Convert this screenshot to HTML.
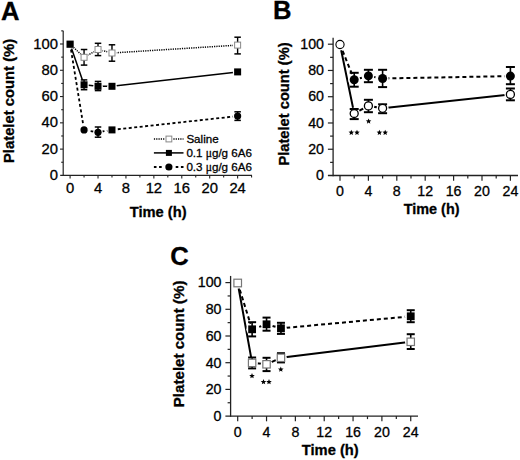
<!DOCTYPE html>
<html><head><meta charset="utf-8"><style>
html,body{margin:0;padding:0;background:#fff;width:520px;height:460px;overflow:hidden;}
svg{display:block;font-family:"Liberation Sans", sans-serif;}
text{stroke:#000;stroke-width:0.3px;}
</style></head><body>
<svg width="520" height="460" viewBox="0 0 520 460" font-family="Liberation Sans, sans-serif">
<rect width="520" height="460" fill="#fff"/>
<text x="1.0" y="19.8" font-size="25.6" font-weight="bold">A</text>
<text x="273.0" y="19.0" font-size="25.6" font-weight="bold">B</text>
<text x="170.3" y="264.8" font-size="25.6" font-weight="bold">C</text>
<text transform="translate(13.6,163) rotate(-90)" font-size="14.8" font-weight="bold">Platelet count (%)</text>
<text transform="translate(288.5,165.6) rotate(-90)" font-size="14.7" font-weight="bold">Platelet count (%)</text>
<text transform="translate(184.3,407.2) rotate(-90)" font-size="15.1" font-weight="bold">Platelet count (%)</text>
<text x="129.7" y="216.6" font-size="14.7" font-weight="bold">Time (h)</text>
<text x="403.8" y="214" font-size="14.4" font-weight="bold">Time (h)</text>
<text x="301.8" y="454.8" font-size="14.7" font-weight="bold">Time (h)</text>
<line x1="63.2" y1="30.86" x2="63.2" y2="176" stroke="#222" stroke-width="1.2" />
<line x1="60.2" y1="175.4" x2="252" y2="175.4" stroke="#222" stroke-width="1.2" />
<line x1="61.2" y1="162.26" x2="63.2" y2="162.26" stroke="#222" stroke-width="1.1" />
<line x1="60" y1="149.12" x2="63.2" y2="149.12" stroke="#222" stroke-width="1.1" />
<line x1="61.2" y1="135.98" x2="63.2" y2="135.98" stroke="#222" stroke-width="1.1" />
<line x1="60" y1="122.84" x2="63.2" y2="122.84" stroke="#222" stroke-width="1.1" />
<line x1="61.2" y1="109.7" x2="63.2" y2="109.7" stroke="#222" stroke-width="1.1" />
<line x1="60" y1="96.56" x2="63.2" y2="96.56" stroke="#222" stroke-width="1.1" />
<line x1="61.2" y1="83.42" x2="63.2" y2="83.42" stroke="#222" stroke-width="1.1" />
<line x1="60" y1="70.28" x2="63.2" y2="70.28" stroke="#222" stroke-width="1.1" />
<line x1="61.2" y1="57.14" x2="63.2" y2="57.14" stroke="#222" stroke-width="1.1" />
<line x1="60" y1="44" x2="63.2" y2="44" stroke="#222" stroke-width="1.1" />
<line x1="61.2" y1="30.86" x2="63.2" y2="30.86" stroke="#222" stroke-width="1.1" />
<line x1="70.1" y1="175.4" x2="70.1" y2="178.6" stroke="#222" stroke-width="1.1" />
<line x1="84.06" y1="175.4" x2="84.06" y2="177.4" stroke="#222" stroke-width="1.1" />
<line x1="98.02" y1="175.4" x2="98.02" y2="178.6" stroke="#222" stroke-width="1.1" />
<line x1="111.98" y1="175.4" x2="111.98" y2="177.4" stroke="#222" stroke-width="1.1" />
<line x1="125.94" y1="175.4" x2="125.94" y2="178.6" stroke="#222" stroke-width="1.1" />
<line x1="139.9" y1="175.4" x2="139.9" y2="177.4" stroke="#222" stroke-width="1.1" />
<line x1="153.86" y1="175.4" x2="153.86" y2="178.6" stroke="#222" stroke-width="1.1" />
<line x1="167.82" y1="175.4" x2="167.82" y2="177.4" stroke="#222" stroke-width="1.1" />
<line x1="181.78" y1="175.4" x2="181.78" y2="178.6" stroke="#222" stroke-width="1.1" />
<line x1="195.74" y1="175.4" x2="195.74" y2="177.4" stroke="#222" stroke-width="1.1" />
<line x1="209.7" y1="175.4" x2="209.7" y2="178.6" stroke="#222" stroke-width="1.1" />
<line x1="223.66" y1="175.4" x2="223.66" y2="177.4" stroke="#222" stroke-width="1.1" />
<line x1="237.62" y1="175.4" x2="237.62" y2="178.6" stroke="#222" stroke-width="1.1" />
<line x1="251.58" y1="175.4" x2="251.58" y2="177.4" stroke="#222" stroke-width="1.1" />
<text x="58" y="179.9" text-anchor="end" font-size="14.8">0</text>
<text x="58" y="153.62" text-anchor="end" font-size="14.8">20</text>
<text x="58" y="127.34" text-anchor="end" font-size="14.8">40</text>
<text x="58" y="101.06" text-anchor="end" font-size="14.8">60</text>
<text x="58" y="74.78" text-anchor="end" font-size="14.8">80</text>
<text x="58" y="48.5" text-anchor="end" font-size="14.8">100</text>
<text x="70.1" y="192.5" text-anchor="middle" font-size="14.8">0</text>
<text x="98.02" y="192.5" text-anchor="middle" font-size="14.8">4</text>
<text x="125.94" y="192.5" text-anchor="middle" font-size="14.8">8</text>
<text x="153.86" y="192.5" text-anchor="middle" font-size="14.8">12</text>
<text x="181.78" y="192.5" text-anchor="middle" font-size="14.8">16</text>
<text x="209.7" y="192.5" text-anchor="middle" font-size="14.8">20</text>
<text x="237.62" y="192.5" text-anchor="middle" font-size="14.8">24</text>
<line x1="333.1" y1="37.64" x2="333.1" y2="176.15" stroke="#222" stroke-width="1.3" />
<line x1="327.9" y1="175.5" x2="518" y2="175.5" stroke="#222" stroke-width="1.3" />
<line x1="330.1" y1="162.37" x2="333.1" y2="162.37" stroke="#222" stroke-width="1.2" />
<line x1="327.9" y1="149.24" x2="333.1" y2="149.24" stroke="#222" stroke-width="1.2" />
<line x1="330.1" y1="136.11" x2="333.1" y2="136.11" stroke="#222" stroke-width="1.2" />
<line x1="327.9" y1="122.98" x2="333.1" y2="122.98" stroke="#222" stroke-width="1.2" />
<line x1="330.1" y1="109.85" x2="333.1" y2="109.85" stroke="#222" stroke-width="1.2" />
<line x1="327.9" y1="96.72" x2="333.1" y2="96.72" stroke="#222" stroke-width="1.2" />
<line x1="330.1" y1="83.59" x2="333.1" y2="83.59" stroke="#222" stroke-width="1.2" />
<line x1="327.9" y1="70.46" x2="333.1" y2="70.46" stroke="#222" stroke-width="1.2" />
<line x1="330.1" y1="57.33" x2="333.1" y2="57.33" stroke="#222" stroke-width="1.2" />
<line x1="327.9" y1="44.2" x2="333.1" y2="44.2" stroke="#222" stroke-width="1.2" />
<line x1="340" y1="175.5" x2="340" y2="180.7" stroke="#222" stroke-width="1.2" />
<line x1="354.2" y1="175.5" x2="354.2" y2="178.5" stroke="#222" stroke-width="1.2" />
<line x1="368.4" y1="175.5" x2="368.4" y2="180.7" stroke="#222" stroke-width="1.2" />
<line x1="382.6" y1="175.5" x2="382.6" y2="178.5" stroke="#222" stroke-width="1.2" />
<line x1="396.8" y1="175.5" x2="396.8" y2="180.7" stroke="#222" stroke-width="1.2" />
<line x1="411" y1="175.5" x2="411" y2="178.5" stroke="#222" stroke-width="1.2" />
<line x1="425.2" y1="175.5" x2="425.2" y2="180.7" stroke="#222" stroke-width="1.2" />
<line x1="439.4" y1="175.5" x2="439.4" y2="178.5" stroke="#222" stroke-width="1.2" />
<line x1="453.6" y1="175.5" x2="453.6" y2="180.7" stroke="#222" stroke-width="1.2" />
<line x1="467.8" y1="175.5" x2="467.8" y2="178.5" stroke="#222" stroke-width="1.2" />
<line x1="482" y1="175.5" x2="482" y2="180.7" stroke="#222" stroke-width="1.2" />
<line x1="496.2" y1="175.5" x2="496.2" y2="178.5" stroke="#222" stroke-width="1.2" />
<line x1="510.4" y1="175.5" x2="510.4" y2="180.7" stroke="#222" stroke-width="1.2" />
<text x="324" y="180.1" text-anchor="end" font-size="14.2">0</text>
<text x="324" y="153.84" text-anchor="end" font-size="14.2">20</text>
<text x="324" y="127.58" text-anchor="end" font-size="14.2">40</text>
<text x="324" y="101.32" text-anchor="end" font-size="14.2">60</text>
<text x="324" y="75.06" text-anchor="end" font-size="14.2">80</text>
<text x="324" y="48.8" text-anchor="end" font-size="14.2">100</text>
<text x="340" y="196.4" text-anchor="middle" font-size="14.2">0</text>
<text x="368.4" y="196.4" text-anchor="middle" font-size="14.2">4</text>
<text x="396.8" y="196.4" text-anchor="middle" font-size="14.2">8</text>
<text x="425.2" y="196.4" text-anchor="middle" font-size="14.2">12</text>
<text x="453.6" y="196.4" text-anchor="middle" font-size="14.2">16</text>
<text x="482" y="196.4" text-anchor="middle" font-size="14.2">20</text>
<text x="510.4" y="196.4" text-anchor="middle" font-size="14.2">24</text>
<line x1="230.6" y1="275.93" x2="230.6" y2="416.75" stroke="#222" stroke-width="1.3" />
<line x1="225.4" y1="416.1" x2="418" y2="416.1" stroke="#222" stroke-width="1.3" />
<line x1="227.6" y1="402.75" x2="230.6" y2="402.75" stroke="#222" stroke-width="1.2" />
<line x1="225.4" y1="389.4" x2="230.6" y2="389.4" stroke="#222" stroke-width="1.2" />
<line x1="227.6" y1="376.05" x2="230.6" y2="376.05" stroke="#222" stroke-width="1.2" />
<line x1="225.4" y1="362.7" x2="230.6" y2="362.7" stroke="#222" stroke-width="1.2" />
<line x1="227.6" y1="349.35" x2="230.6" y2="349.35" stroke="#222" stroke-width="1.2" />
<line x1="225.4" y1="336" x2="230.6" y2="336" stroke="#222" stroke-width="1.2" />
<line x1="227.6" y1="322.65" x2="230.6" y2="322.65" stroke="#222" stroke-width="1.2" />
<line x1="225.4" y1="309.3" x2="230.6" y2="309.3" stroke="#222" stroke-width="1.2" />
<line x1="227.6" y1="295.95" x2="230.6" y2="295.95" stroke="#222" stroke-width="1.2" />
<line x1="225.4" y1="282.6" x2="230.6" y2="282.6" stroke="#222" stroke-width="1.2" />
<line x1="237.7" y1="416.1" x2="237.7" y2="421.3" stroke="#222" stroke-width="1.2" />
<line x1="252.12" y1="416.1" x2="252.12" y2="419.1" stroke="#222" stroke-width="1.2" />
<line x1="266.54" y1="416.1" x2="266.54" y2="421.3" stroke="#222" stroke-width="1.2" />
<line x1="280.96" y1="416.1" x2="280.96" y2="419.1" stroke="#222" stroke-width="1.2" />
<line x1="295.38" y1="416.1" x2="295.38" y2="421.3" stroke="#222" stroke-width="1.2" />
<line x1="309.8" y1="416.1" x2="309.8" y2="419.1" stroke="#222" stroke-width="1.2" />
<line x1="324.22" y1="416.1" x2="324.22" y2="421.3" stroke="#222" stroke-width="1.2" />
<line x1="338.64" y1="416.1" x2="338.64" y2="419.1" stroke="#222" stroke-width="1.2" />
<line x1="353.06" y1="416.1" x2="353.06" y2="421.3" stroke="#222" stroke-width="1.2" />
<line x1="367.48" y1="416.1" x2="367.48" y2="419.1" stroke="#222" stroke-width="1.2" />
<line x1="381.9" y1="416.1" x2="381.9" y2="421.3" stroke="#222" stroke-width="1.2" />
<line x1="396.32" y1="416.1" x2="396.32" y2="419.1" stroke="#222" stroke-width="1.2" />
<line x1="410.74" y1="416.1" x2="410.74" y2="421.3" stroke="#222" stroke-width="1.2" />
<text x="221.5" y="420.9" text-anchor="end" font-size="14.2">0</text>
<text x="221.5" y="394.2" text-anchor="end" font-size="14.2">20</text>
<text x="221.5" y="367.5" text-anchor="end" font-size="14.2">40</text>
<text x="221.5" y="340.8" text-anchor="end" font-size="14.2">60</text>
<text x="221.5" y="314.1" text-anchor="end" font-size="14.2">80</text>
<text x="221.5" y="287.4" text-anchor="end" font-size="14.2">100</text>
<text x="237.7" y="437.1" text-anchor="middle" font-size="14.2">0</text>
<text x="266.54" y="437.1" text-anchor="middle" font-size="14.2">4</text>
<text x="295.38" y="437.1" text-anchor="middle" font-size="14.2">8</text>
<text x="324.22" y="437.1" text-anchor="middle" font-size="14.2">12</text>
<text x="353.06" y="437.1" text-anchor="middle" font-size="14.2">16</text>
<text x="381.9" y="437.1" text-anchor="middle" font-size="14.2">20</text>
<text x="410.74" y="437.1" text-anchor="middle" font-size="14.2">24</text>
<mask id="mA" maskUnits="userSpaceOnUse" x="0" y="0" width="520" height="460"><rect width="520" height="460" fill="#fff"/>
<circle cx="70.1" cy="44.2" r="4.8" fill="#000"/>
<circle cx="84.06" cy="57.3" r="4.8" fill="#000"/>
<circle cx="98.02" cy="49.5" r="4.8" fill="#000"/>
<circle cx="111.98" cy="53" r="4.8" fill="#000"/>
<circle cx="237.62" cy="45.1" r="4.8" fill="#000"/>
<circle cx="84.06" cy="84.8" r="4.8" fill="#000"/>
<circle cx="98.02" cy="86.3" r="4.8" fill="#000"/>
<circle cx="111.98" cy="86.3" r="4.8" fill="#000"/>
<circle cx="237.62" cy="71.9" r="4.8" fill="#000"/>
<circle cx="84.06" cy="129.9" r="4.8" fill="#000"/>
<circle cx="98.02" cy="132.3" r="4.8" fill="#000"/>
<circle cx="111.98" cy="129.9" r="4.8" fill="#000"/>
<circle cx="237.62" cy="116.1" r="4.8" fill="#000"/>
</mask>
<g mask="url(#mA)">
<polyline points="70.1,44.2 84.06,57.3 98.02,49.5 111.98,53 237.62,45.1" fill="none" stroke="#000" stroke-width="1.5" stroke-dasharray="1.2,1.1"/>
<polyline points="70.1,44.2 84.06,84.8 98.02,86.3 111.98,86.3 237.62,71.9" fill="none" stroke="#000" stroke-width="1.5"/>
<polyline points="70.1,44.2 84.06,129.9 98.02,132.3 111.98,129.9 237.62,116.1" fill="none" stroke="#000" stroke-width="1.8" stroke-dasharray="3,2.5"/>
</g>
<line x1="84.06" y1="49.5" x2="84.06" y2="65.1" stroke="#000" stroke-width="1.4" />
<line x1="80.81" y1="49.5" x2="87.31" y2="49.5" stroke="#000" stroke-width="1.5" />
<line x1="80.81" y1="65.1" x2="87.31" y2="65.1" stroke="#000" stroke-width="1.5" />
<line x1="84.06" y1="79.9" x2="84.06" y2="89.7" stroke="#000" stroke-width="1.4" />
<line x1="80.81" y1="79.9" x2="87.31" y2="79.9" stroke="#000" stroke-width="1.5" />
<line x1="80.81" y1="89.7" x2="87.31" y2="89.7" stroke="#000" stroke-width="1.5" />
<line x1="98.02" y1="43.3" x2="98.02" y2="55.6" stroke="#000" stroke-width="1.4" />
<line x1="94.77" y1="43.3" x2="101.27" y2="43.3" stroke="#000" stroke-width="1.5" />
<line x1="94.77" y1="55.6" x2="101.27" y2="55.6" stroke="#000" stroke-width="1.5" />
<line x1="98.02" y1="81.4" x2="98.02" y2="90.6" stroke="#000" stroke-width="1.4" />
<line x1="94.77" y1="81.4" x2="101.27" y2="81.4" stroke="#000" stroke-width="1.5" />
<line x1="94.77" y1="90.6" x2="101.27" y2="90.6" stroke="#000" stroke-width="1.5" />
<line x1="98.02" y1="127" x2="98.02" y2="137.2" stroke="#000" stroke-width="1.4" />
<line x1="94.77" y1="127" x2="101.27" y2="127" stroke="#000" stroke-width="1.5" />
<line x1="94.77" y1="137.2" x2="101.27" y2="137.2" stroke="#000" stroke-width="1.5" />
<line x1="111.98" y1="44.8" x2="111.98" y2="61.2" stroke="#000" stroke-width="1.4" />
<line x1="108.73" y1="44.8" x2="115.23" y2="44.8" stroke="#000" stroke-width="1.5" />
<line x1="108.73" y1="61.2" x2="115.23" y2="61.2" stroke="#000" stroke-width="1.5" />
<line x1="237.62" y1="37.2" x2="237.62" y2="53.9" stroke="#000" stroke-width="1.4" />
<line x1="234.37" y1="37.2" x2="240.87" y2="37.2" stroke="#000" stroke-width="1.5" />
<line x1="234.37" y1="53.9" x2="240.87" y2="53.9" stroke="#000" stroke-width="1.5" />
<line x1="237.62" y1="111.8" x2="237.62" y2="120.4" stroke="#000" stroke-width="1.4" />
<line x1="234.37" y1="111.8" x2="240.87" y2="111.8" stroke="#000" stroke-width="1.5" />
<line x1="234.37" y1="120.4" x2="240.87" y2="120.4" stroke="#000" stroke-width="1.5" />
<rect x="81.06" y="54.3" width="6" height="6" fill="#fff" stroke="#888" stroke-width="1"/>
<rect x="80.56" y="81.3" width="7" height="7" fill="#000" stroke="none" stroke-width="0"/>
<circle cx="84.06" cy="129.9" r="3.6" fill="#000" stroke="none" stroke-width="0"/>
<rect x="95.02" y="46.5" width="6" height="6" fill="#fff" stroke="#888" stroke-width="1"/>
<rect x="94.52" y="82.8" width="7" height="7" fill="#000" stroke="none" stroke-width="0"/>
<circle cx="98.02" cy="132.3" r="3.6" fill="#000" stroke="none" stroke-width="0"/>
<rect x="108.98" y="50" width="6" height="6" fill="#fff" stroke="#888" stroke-width="1"/>
<rect x="108.48" y="82.8" width="7" height="7" fill="#000" stroke="none" stroke-width="0"/>
<rect x="108.48" y="126.4" width="7" height="7" fill="#000" stroke="none" stroke-width="0"/>
<rect x="234.62" y="42.1" width="6" height="6" fill="#fff" stroke="#888" stroke-width="1"/>
<rect x="234.12" y="68.4" width="7" height="7" fill="#000" stroke="none" stroke-width="0"/>
<circle cx="237.62" cy="116.1" r="3.6" fill="#000" stroke="none" stroke-width="0"/>
<rect x="66.5" y="40.6" width="7.2" height="7.2" fill="#000" stroke="none" stroke-width="0"/>
<line x1="153.9" y1="139" x2="164.4" y2="139" stroke="#000" stroke-width="1.5" stroke-dasharray="1.2,1.1"/>
<line x1="173.4" y1="139" x2="183.5" y2="139" stroke="#000" stroke-width="1.5" stroke-dasharray="1.2,1.1"/>
<line x1="153.9" y1="152.9" x2="183.5" y2="152.9" stroke="#000" stroke-width="1.5" />
<line x1="153.9" y1="167" x2="163.9" y2="167" stroke="#000" stroke-width="1.8" stroke-dasharray="2.6,2.6"/>
<line x1="183.5" y1="167" x2="173.9" y2="167" stroke="#000" stroke-width="1.8" stroke-dasharray="2.6,2.6"/>
<rect x="166" y="136.1" width="5.8" height="5.8" fill="#fff" stroke="#888" stroke-width="1"/>
<rect x="165.9" y="149.9" width="6" height="6" fill="#000" stroke="none" stroke-width="0"/>
<circle cx="168.9" cy="167" r="3.6" fill="#000" stroke="none" stroke-width="0"/>
<text x="186.4" y="143.3" font-size="11.6">Saline</text>
<text x="186.4" y="156.9" font-size="11.6">0.1 <tspan font-family="Liberation Serif, serif">&#956;</tspan>g/g 6A6</text>
<text x="186.4" y="170.5" font-size="11.6">0.3 <tspan font-family="Liberation Serif, serif">&#956;</tspan>g/g 6A6</text>
<mask id="mB" maskUnits="userSpaceOnUse" x="0" y="0" width="520" height="460"><rect width="520" height="460" fill="#fff"/>
<circle cx="340" cy="44.5" r="6" fill="#000"/>
<circle cx="354.2" cy="79.8" r="6" fill="#000"/>
<circle cx="368.4" cy="75.9" r="6" fill="#000"/>
<circle cx="382.6" cy="78.5" r="6" fill="#000"/>
<circle cx="510.4" cy="76.1" r="6" fill="#000"/>
<circle cx="354.2" cy="113.5" r="6" fill="#000"/>
<circle cx="368.4" cy="105.9" r="6" fill="#000"/>
<circle cx="382.6" cy="108.3" r="6" fill="#000"/>
<circle cx="510.4" cy="94.4" r="6" fill="#000"/>
</mask>
<g mask="url(#mB)">
<polyline points="340,44.5 354.2,79.8 368.4,75.9 382.6,78.5 510.4,76.1" fill="none" stroke="#000" stroke-width="2" stroke-dasharray="4,3"/>
<polyline points="340,44.5 354.2,113.5 368.4,105.9 382.6,108.3 510.4,94.4" fill="none" stroke="#000" stroke-width="2"/>
</g>
<line x1="354.2" y1="72.8" x2="354.2" y2="86.7" stroke="#000" stroke-width="1.6" />
<line x1="349.7" y1="72.8" x2="358.7" y2="72.8" stroke="#000" stroke-width="2" />
<line x1="349.7" y1="86.7" x2="358.7" y2="86.7" stroke="#000" stroke-width="2" />
<line x1="354.2" y1="109" x2="354.2" y2="119.1" stroke="#000" stroke-width="1.6" />
<line x1="349.7" y1="109" x2="358.7" y2="109" stroke="#000" stroke-width="2" />
<line x1="349.7" y1="119.1" x2="358.7" y2="119.1" stroke="#000" stroke-width="2" />
<line x1="368.4" y1="69.8" x2="368.4" y2="82.2" stroke="#000" stroke-width="1.6" />
<line x1="363.9" y1="69.8" x2="372.9" y2="69.8" stroke="#000" stroke-width="2" />
<line x1="363.9" y1="82.2" x2="372.9" y2="82.2" stroke="#000" stroke-width="2" />
<line x1="368.4" y1="99.8" x2="368.4" y2="112.2" stroke="#000" stroke-width="1.6" />
<line x1="363.9" y1="99.8" x2="372.9" y2="99.8" stroke="#000" stroke-width="2" />
<line x1="363.9" y1="112.2" x2="372.9" y2="112.2" stroke="#000" stroke-width="2" />
<line x1="382.6" y1="69.8" x2="382.6" y2="87.1" stroke="#000" stroke-width="1.6" />
<line x1="378.1" y1="69.8" x2="387.1" y2="69.8" stroke="#000" stroke-width="2" />
<line x1="378.1" y1="87.1" x2="387.1" y2="87.1" stroke="#000" stroke-width="2" />
<line x1="382.6" y1="104.3" x2="382.6" y2="113.2" stroke="#000" stroke-width="1.6" />
<line x1="378.1" y1="104.3" x2="387.1" y2="104.3" stroke="#000" stroke-width="2" />
<line x1="378.1" y1="113.2" x2="387.1" y2="113.2" stroke="#000" stroke-width="2" />
<line x1="510.4" y1="67" x2="510.4" y2="84.2" stroke="#000" stroke-width="1.6" />
<line x1="505.9" y1="67" x2="514.9" y2="67" stroke="#000" stroke-width="2" />
<line x1="505.9" y1="84.2" x2="514.9" y2="84.2" stroke="#000" stroke-width="2" />
<line x1="510.4" y1="88.5" x2="510.4" y2="100.3" stroke="#000" stroke-width="1.6" />
<line x1="505.9" y1="88.5" x2="514.9" y2="88.5" stroke="#000" stroke-width="2" />
<line x1="505.9" y1="100.3" x2="514.9" y2="100.3" stroke="#000" stroke-width="2" />
<circle cx="354.2" cy="79.8" r="4.5" fill="#000" stroke="none" stroke-width="0"/>
<circle cx="354.2" cy="113.5" r="4" fill="#fff" stroke="#000" stroke-width="1.3"/>
<circle cx="368.4" cy="75.9" r="4.5" fill="#000" stroke="none" stroke-width="0"/>
<circle cx="368.4" cy="105.9" r="4" fill="#fff" stroke="#000" stroke-width="1.3"/>
<circle cx="382.6" cy="78.5" r="4.5" fill="#000" stroke="none" stroke-width="0"/>
<circle cx="382.6" cy="108.3" r="4" fill="#fff" stroke="#000" stroke-width="1.3"/>
<circle cx="510.4" cy="76.1" r="4.5" fill="#000" stroke="none" stroke-width="0"/>
<circle cx="510.4" cy="94.4" r="4" fill="#fff" stroke="#000" stroke-width="1.3"/>
<circle cx="340" cy="44.5" r="4.1" fill="#fff" stroke="#000" stroke-width="1.1"/>
<polygon points="351.3,129.7 352.07,131.54 354.06,131.7 352.54,133 353,134.95 351.3,133.91 349.6,134.95 350.06,133 348.54,131.7 350.53,131.54" fill="#000"/>
<polygon points="357,129.7 357.77,131.54 359.76,131.7 358.24,133 358.7,134.95 357,133.91 355.3,134.95 355.76,133 354.24,131.7 356.23,131.54" fill="#000"/>
<polygon points="368.6,118.4 369.37,120.24 371.36,120.4 369.84,121.7 370.3,123.65 368.6,122.61 366.9,123.65 367.36,121.7 365.84,120.4 367.83,120.24" fill="#000"/>
<polygon points="379.4,129.7 380.17,131.54 382.16,131.7 380.64,133 381.1,134.95 379.4,133.91 377.7,134.95 378.16,133 376.64,131.7 378.63,131.54" fill="#000"/>
<polygon points="385.2,129.7 385.97,131.54 387.96,131.7 386.44,133 386.9,134.95 385.2,133.91 383.5,134.95 383.96,133 382.44,131.7 384.43,131.54" fill="#000"/>
<mask id="mC" maskUnits="userSpaceOnUse" x="0" y="0" width="520" height="460"><rect width="520" height="460" fill="#fff"/>
<circle cx="237.7" cy="283" r="5.8" fill="#000"/>
<circle cx="252.12" cy="329.3" r="5.8" fill="#000"/>
<circle cx="266.54" cy="324.3" r="5.8" fill="#000"/>
<circle cx="280.96" cy="328.3" r="5.8" fill="#000"/>
<circle cx="410.74" cy="316.3" r="5.8" fill="#000"/>
<circle cx="252.12" cy="362.9" r="5.8" fill="#000"/>
<circle cx="266.54" cy="364.3" r="5.8" fill="#000"/>
<circle cx="280.96" cy="357.8" r="5.8" fill="#000"/>
<circle cx="410.74" cy="341.8" r="5.8" fill="#000"/>
</mask>
<g mask="url(#mC)">
<polyline points="237.7,283 252.12,329.3 266.54,324.3 280.96,328.3 410.74,316.3" fill="none" stroke="#000" stroke-width="2" stroke-dasharray="4,3"/>
<polyline points="237.7,283 252.12,362.9 266.54,364.3 280.96,357.8 410.74,341.8" fill="none" stroke="#000" stroke-width="2"/>
</g>
<line x1="252.12" y1="322.2" x2="252.12" y2="336.4" stroke="#000" stroke-width="1.6" />
<line x1="248.12" y1="322.2" x2="256.12" y2="322.2" stroke="#000" stroke-width="2" />
<line x1="248.12" y1="336.4" x2="256.12" y2="336.4" stroke="#000" stroke-width="2" />
<line x1="252.12" y1="357.5" x2="252.12" y2="368.4" stroke="#000" stroke-width="1.6" />
<line x1="248.12" y1="357.5" x2="256.12" y2="357.5" stroke="#000" stroke-width="2" />
<line x1="248.12" y1="368.4" x2="256.12" y2="368.4" stroke="#000" stroke-width="2" />
<line x1="266.54" y1="317.6" x2="266.54" y2="330.7" stroke="#000" stroke-width="1.6" />
<line x1="262.54" y1="317.6" x2="270.54" y2="317.6" stroke="#000" stroke-width="2" />
<line x1="262.54" y1="330.7" x2="270.54" y2="330.7" stroke="#000" stroke-width="2" />
<line x1="266.54" y1="357.8" x2="266.54" y2="371.1" stroke="#000" stroke-width="1.6" />
<line x1="262.54" y1="357.8" x2="270.54" y2="357.8" stroke="#000" stroke-width="2" />
<line x1="262.54" y1="371.1" x2="270.54" y2="371.1" stroke="#000" stroke-width="2" />
<line x1="280.96" y1="322.8" x2="280.96" y2="333.9" stroke="#000" stroke-width="1.6" />
<line x1="276.96" y1="322.8" x2="284.96" y2="322.8" stroke="#000" stroke-width="2" />
<line x1="276.96" y1="333.9" x2="284.96" y2="333.9" stroke="#000" stroke-width="2" />
<line x1="280.96" y1="353.2" x2="280.96" y2="362.4" stroke="#000" stroke-width="1.6" />
<line x1="276.96" y1="353.2" x2="284.96" y2="353.2" stroke="#000" stroke-width="2" />
<line x1="276.96" y1="362.4" x2="284.96" y2="362.4" stroke="#000" stroke-width="2" />
<line x1="410.74" y1="310.2" x2="410.74" y2="322.2" stroke="#000" stroke-width="1.6" />
<line x1="406.74" y1="310.2" x2="414.74" y2="310.2" stroke="#000" stroke-width="2" />
<line x1="406.74" y1="322.2" x2="414.74" y2="322.2" stroke="#000" stroke-width="2" />
<line x1="410.74" y1="334.2" x2="410.74" y2="349" stroke="#000" stroke-width="1.6" />
<line x1="406.74" y1="334.2" x2="414.74" y2="334.2" stroke="#000" stroke-width="2" />
<line x1="406.74" y1="349" x2="414.74" y2="349" stroke="#000" stroke-width="2" />
<rect x="248.22" y="325.4" width="7.8" height="7.8" fill="#000" stroke="none" stroke-width="0"/>
<rect x="248.42" y="359.2" width="7.4" height="7.4" fill="#fff" stroke="#777" stroke-width="1.2"/>
<rect x="262.64" y="320.4" width="7.8" height="7.8" fill="#000" stroke="none" stroke-width="0"/>
<rect x="262.84" y="360.6" width="7.4" height="7.4" fill="#fff" stroke="#777" stroke-width="1.2"/>
<rect x="277.06" y="324.4" width="7.8" height="7.8" fill="#000" stroke="none" stroke-width="0"/>
<rect x="277.26" y="354.1" width="7.4" height="7.4" fill="#fff" stroke="#777" stroke-width="1.2"/>
<rect x="406.84" y="312.4" width="7.8" height="7.8" fill="#000" stroke="none" stroke-width="0"/>
<rect x="407.04" y="338.1" width="7.4" height="7.4" fill="#fff" stroke="#777" stroke-width="1.2"/>
<rect x="233.9" y="279.2" width="7.6" height="7.6" fill="#fff" stroke="#777" stroke-width="1.2"/>
<polygon points="252,373.1 252.77,374.94 254.76,375.1 253.24,376.4 253.7,378.35 252,377.31 250.3,378.35 250.76,376.4 249.24,375.1 251.23,374.94" fill="#000"/>
<polygon points="263.5,379.1 264.27,380.94 266.26,381.1 264.74,382.4 265.2,384.35 263.5,383.31 261.8,384.35 262.26,382.4 260.74,381.1 262.73,380.94" fill="#000"/>
<polygon points="269,379.1 269.77,380.94 271.76,381.1 270.24,382.4 270.7,384.35 269,383.31 267.3,384.35 267.76,382.4 266.24,381.1 268.23,380.94" fill="#000"/>
<polygon points="280.8,366.6 281.57,368.44 283.56,368.6 282.04,369.9 282.5,371.85 280.8,370.81 279.1,371.85 279.56,369.9 278.04,368.6 280.03,368.44" fill="#000"/>
</svg>
</body></html>
